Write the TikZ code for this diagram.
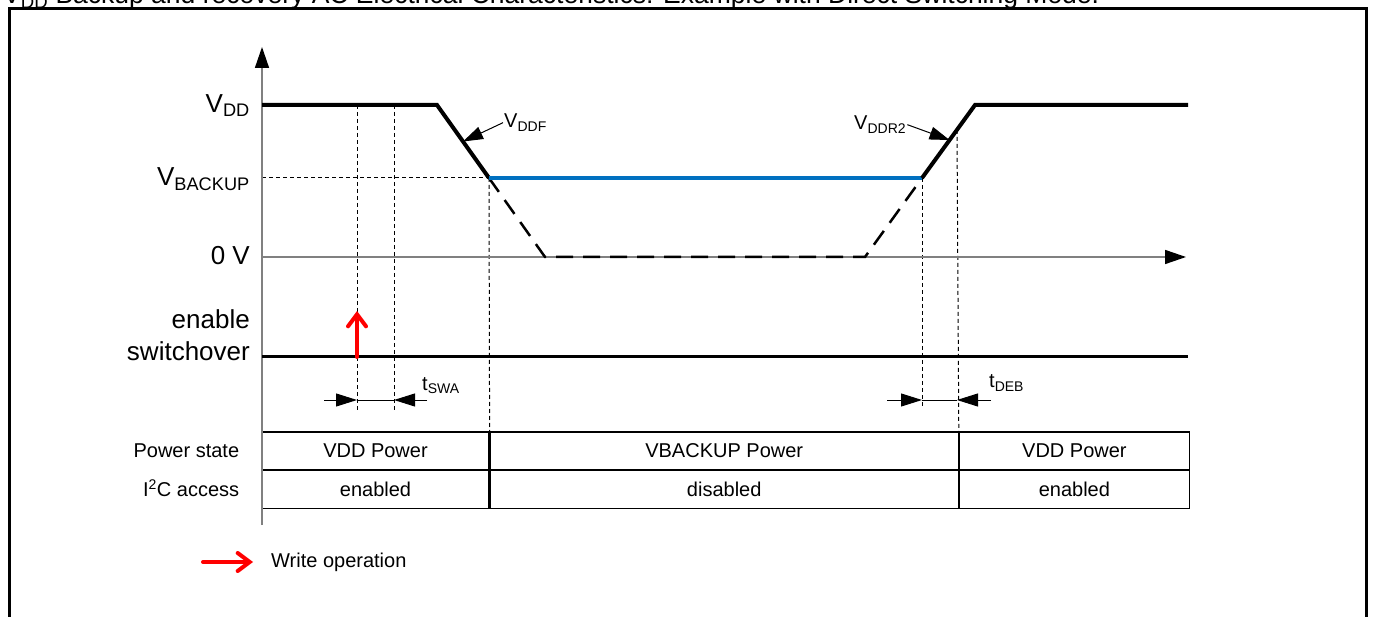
\documentclass[tikz,border=0pt]{standalone}
\usepackage{fontspec}
\setmainfont{Liberation Sans}
\usepackage{tikz}
\usetikzlibrary{arrows.meta,positioning,calc}
\definecolor{backupblue}{RGB}{0, 112, 192}
\definecolor{axisgray}{RGB}{128, 128, 128}
\definecolor{writered}{RGB}{255, 0, 0}

\tikzset{
    axisline/.style={draw=axisgray, line width=1.5pt, -{Triangle[length=21pt, width=14pt, color=black]}},
    guide/.style={line width=1pt, dash pattern=on 4pt off 3pt},
    signal/.style={line width=4pt, line join=miter},
    writearrow/.style={draw=writered, line width=4pt, line cap=round, -{Straight Barb[length=12pt, width=18pt, line cap=round]}},
    callout/.style={line width=1pt, -{Triangle[length=20pt, width=13pt]}},
    timetip/.style={line width=1pt, -{Triangle[length=21pt, width=13pt]}},
    levellabel/.style={anchor=base east, inner sep=0pt, font=\fontsize{26}{32}\selectfont},
    smalllabel/.style={anchor=base west, inner sep=1pt, font=\fontsize{20}{24}\selectfont},
    cell/.style={draw, line width=1.2pt, inner sep=0pt, minimum height=37.5pt, text height=14.3pt, text depth=0pt, font=\fontsize{20}{24}\selectfont},
    rowlabel/.style={inner sep=0pt, text height=14.3pt, text depth=0pt, font=\fontsize{20}{24}\selectfont},
}

\begin{document}
\begin{tikzpicture}[x=1pt, y=-1pt]
    \useasboundingbox (0,0) rectangle (1373,617);

    % Caption (cut at the top) and frame
    \node[anchor=base west, inner sep=0pt, font=\fontsize{26.5}{30}\selectfont] (title) at (3,4)
        {V\textsubscript{DD} Backup and recovery AC Electrical Characteristics: Example with Direct Switching Mode.};
    \draw[line width=3pt] (9,640) -- (9,9) -- (1366,9) -- (1366,640);

    % Table
    \node[cell, minimum width=227pt] (vddA) at (375.5,450.75) {VDD Power};
    \node[cell, minimum width=468pt, right=0pt of vddA] (backupA) {VBACKUP Power};
    \node[cell, minimum width=230pt, right=0pt of backupA] (vddB) {VDD Power};
    \node[cell, minimum width=227pt, below=0pt of vddA] (i2cA) {enabled};
    \node[cell, minimum width=468pt, below=0pt of backupA] (i2cB) {disabled};
    \node[cell, minimum width=230pt, below=0pt of vddB] (i2cC) {enabled};
    \node[rowlabel, left=22pt of vddA] (statelbl) {Power state};
    \node[rowlabel, left=22pt of i2cA] (i2clbl) {I\textsuperscript{2}C access};

    % Waveform points
    \coordinate (vddStart) at (262,105);
    \coordinate (fallTop) at (437,105);
    \coordinate (fallEnd) at (489,178);
    \coordinate (zeroA) at (545,257);
    \coordinate (zeroB) at (865,257);
    \coordinate (riseStart) at (922,178);
    \coordinate (riseTop) at (975,105);
    \coordinate (vddEnd) at (1188,105);
    \coordinate (ddfTip) at ($(fallTop)!0.5!(fallEnd)$);
    \coordinate (ddrTip) at ($(riseStart)!0.52!(riseTop)$);
    \coordinate (debB) at ($(riseStart)!0.66!(riseTop)$);
    \coordinate (swaL) at (357,400);
    \coordinate (swaR) at (394,400);
    \coordinate (debL) at (922,400);
    \coordinate (debR) at (957,400);

    % Guides
    \draw[guide] (262,178) -- (fallEnd);
    \draw[guide] (357,105) -- (357,410);
    \draw[guide] (394,105) -- (394,410);
    \draw[guide] (fallEnd) -- (backupA.north west);
    \draw[guide] (riseStart) -- (922,408);
    \draw[guide] (debB) -- (vddB.north west);

    % Axes
    \draw[axisline] (262,525) -- (262,47);
    \draw[axisline] (262,257) -- (1186,257);

    % Levels
    \node[levellabel] (vddlbl) at (250,113) {V\textsubscript{DD}};
    \node[levellabel] (backuplbl) at (250,186) {V\textsubscript{BACKUP}};
    \node[levellabel] (zerolbl) at (250,265) {0 V};
    \node[levellabel, align=right] (enlbl) at (250,360) {enable\\switchover};

    % Supply
    \draw[line width=2.5pt, dash pattern=on 17pt off 10pt] (fallEnd) -- (zeroA) -- (zeroB) -- (riseStart);
    \draw[signal] (vddStart) -- (fallTop) -- (fallEnd);
    \draw[line width=3.5pt, backupblue] (fallEnd) -- (riseStart);
    \draw[signal] (riseStart) -- (riseTop) -- (vddEnd);
    \draw[line width=3pt] (262,357) -- (1188,357);

    % Slopes
    \node[smalllabel] (vddf) at (503,128) {V\textsubscript{DDF}};
    \draw[callout] (vddf.west) -- (ddfTip);
    \node[smalllabel] (vddr) at (853,130) {V\textsubscript{DDR2}};
    \draw[callout] (vddr.east) -- (ddrTip);

    % Timings
    \draw[timetip] ($(swaL)+(-33,0)$) -- (swaL);
    \draw[line width=1pt] (swaL) -- (swaR);
    \draw[timetip] ($(swaR)+(33,0)$) -- (swaR);
    \node[smalllabel] (tswa) at (421,390) {t\textsubscript{SWA}};
    \draw[timetip] ($(debL)+(-35,0)$) -- (debL);
    \draw[line width=1pt] (debL) -- (debR);
    \draw[timetip] ($(debR)+(34,0)$) -- (debR);
    \node[smalllabel] (tdeb) at (988,388) {t\textsubscript{DEB}};

    % Write operation
    \draw[writearrow] (357,357) -- (357,311);
    \coordinate (legA) at (203,562);
    \coordinate (legB) at (253,562);
    \draw[writearrow] (legA) -- (legB);
    \node[anchor=west, inner sep=0pt, font=\fontsize{20}{24}\selectfont, right=18pt of legB] (legtext) {Write operation};
\end{tikzpicture}
\end{document}
